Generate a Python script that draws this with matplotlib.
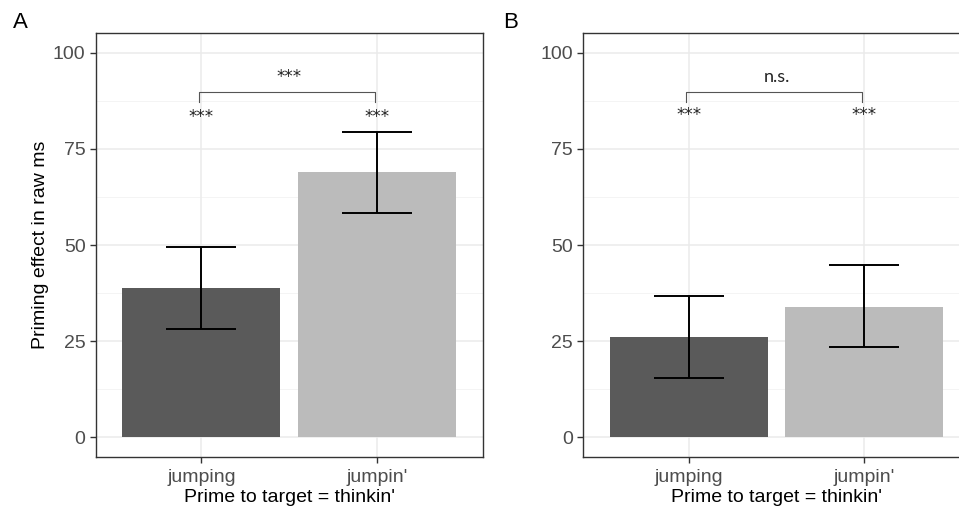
import matplotlib
matplotlib.use("Agg")
import matplotlib.pyplot as plt
import numpy as np

categories = ["jumping", "jumpin'"]
panel_labels = ["A", "B"]

a_means = [38.9, 68.9]
a_lower = [28.3, 58.4]
a_upper = [49.6, 79.3]
a_bar_sig = ["***", "***"]
a_pair_sig = "***"

b_means = [26.0, 34.0]
b_lower = [15.4, 23.4]
b_upper = [36.7, 44.8]
b_bar_sig = ["***", "***"]
b_pair_sig = "n.s."

y_ticks = [0, 25, 50, 75, 100]
y_label = "Priming effect in raw ms"
x_label = "Prime to target = thinkin'"

bar_colors = ["#5a5a5a", "#bbbbbb"]

plt.rcParams["font.family"] = ["Liberation Sans", "DejaVu Sans"]

fig = plt.figure(figsize=(9.59, 5.09), dpi=100)
ax_a = fig.add_axes([0.1001, 0.1027, 0.4031, 0.8318])
ax_b = fig.add_axes([0.6082, 0.1027, 0.4031, 0.8318])

panels = [
    (ax_a, a_means, a_lower, a_upper, a_bar_sig, a_pair_sig, True, 82.0),
    (ax_b, b_means, b_lower, b_upper, b_bar_sig, b_pair_sig, False, 82.4),
]

def sig_text(ax, xpos, ypos, s):
    if set(s) == {"*"}:
        ax.text(xpos, ypos, s, ha="center", va="baseline", fontsize=12,
                family=["DejaVu Sans"], color="#222222", zorder=4)
    else:
        ax.text(xpos, ypos, s, ha="center", va="baseline", fontsize=13,
                family=["Lato", "DejaVu Sans"], color="#222222", zorder=4)

for ax, means, lower, upper, bar_sig, pair_sig, show_ylabel, star_y in panels:
    x = np.arange(1, len(categories) + 1)
    means = np.array(means)
    yerr = [means - np.array(lower), np.array(upper) - means]
    ax.set_xlim(0.4, 2.6)
    ax.set_ylim(-5, 105)
    for yv in [12.5, 37.5, 62.5, 87.5]:
        ax.axhline(yv, color="#f2f2f2", lw=0.6, zorder=0)
    for yv in y_ticks:
        ax.axhline(yv, color="#ebebeb", lw=1.1, zorder=0)
    for xv in x:
        ax.axvline(xv, color="#ebebeb", lw=1.1, zorder=0)
    ax.bar(x, means, width=0.9, color=bar_colors, zorder=2)
    ax.errorbar(x, means, yerr=yerr, fmt="none", ecolor="black",
                elinewidth=1.4, capsize=25, capthick=1.4, zorder=3)
    ax.set_xticks(x)
    ax.set_xticklabels(categories)
    ax.set_yticks(y_ticks)
    ax.tick_params(axis="both", labelsize=14, labelcolor="#4d4d4d",
                   color="#333333", length=4, width=1)
    ax.tick_params(axis="x", pad=5)
    for s in ax.spines.values():
        s.set_color("#333333")
        s.set_linewidth(1.0)
    ax.set_xlabel(x_label, fontsize=14, labelpad=2)
    if show_ylabel:
        ax.set_ylabel(y_label, fontsize=14, labelpad=3)
    for xi, s in zip(x, bar_sig):
        sig_text(ax, xi, star_y, s)
    ax.plot([x[0] - 0.015, x[0] - 0.015, x[1] - 0.015, x[1] - 0.015],
            [87.2, 89.8, 89.8, 87.2], color="#555555", lw=0.8, zorder=4)
    sig_text(ax, (x[0] + x[1]) / 2, 92.3, pair_sig)

fig.text(20 / 959, 1 - 22 / 509, panel_labels[0], fontsize=16, ha="center", va="center")
fig.text(511 / 959, 1 - 22 / 509, panel_labels[1], fontsize=16, ha="center", va="center")

fig.savefig("out.png", dpi=100)
